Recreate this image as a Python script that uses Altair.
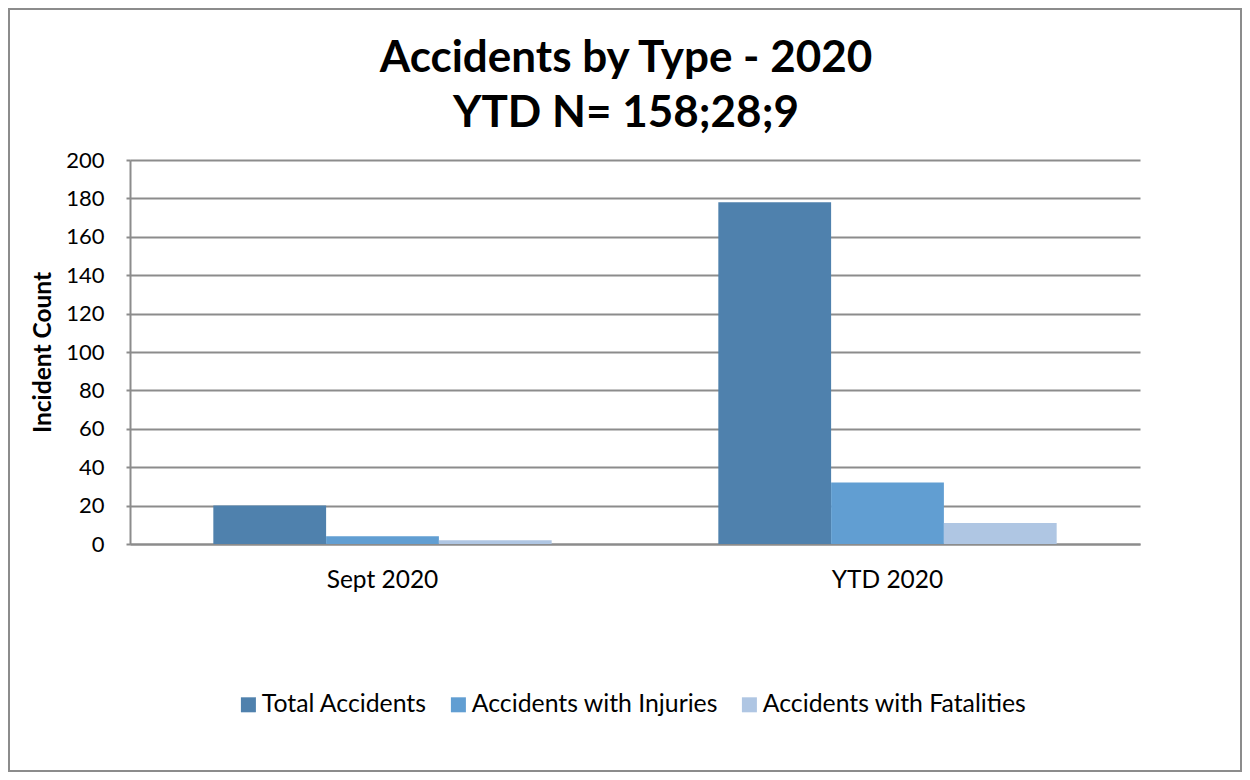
import altair as alt
import pandas as pd

periods = ["Sept 2020", "YTD 2020"]
series = ["Total Accidents", "Accidents with Injuries", "Accidents with Fatalities"]
total = [20, 178]
injuries = [4, 32]
fatalities = [2, 11]
colors = ["#4f81ad", "#619ed2", "#afc6e3"]
y_ticks = list(range(0, 201, 20))
title_lines = ["Accidents by Type - 2020", "YTD N= 158;28;9"]

rows = []
for i, p in enumerate(periods):
    for s, vals in zip(series, [total, injuries, fatalities]):
        rows.append({"period": p, "series": s, "value": vals[i]})
df = pd.DataFrame(rows)

W, H = 1010, 384
PL, PT = 122, 152
PR = 1234 - PL - W
PB = 764 - PT - H
FONT = "Lato"
GRID = "#8c8c8c"
TXT = 24.5

bars = alt.Chart(df).mark_bar(strokeWidth=0).encode(
    x=alt.X(
        "period:N", sort=periods,
        scale=alt.Scale(paddingInner=0.33, paddingOuter=0.165),
        axis=alt.Axis(title=None, labelAngle=0, ticks=False, domain=True,
                      domainColor=GRID, domainWidth=2,
                      labelFontSize=TXT, labelFont=FONT, labelColor="#000",
                      labelPadding=24),
    ),
    xOffset=alt.XOffset("series:N", sort=series,
                        scale=alt.Scale(paddingInner=0, paddingOuter=0)),
    y=alt.Y(
        "value:Q",
        scale=alt.Scale(domain=[0, 200], nice=False),
        axis=alt.Axis(values=y_ticks, title="Incident Count",
                      titleFont=FONT, titleFontSize=TXT, titleFontWeight="bold",
                      titleColor="#000", titlePadding=10,
                      labelFont=FONT, labelFontSize=22, labelColor="#000",
                      labelPadding=22, tickSize=4, tickColor=GRID, tickWidth=2,
                      domain=True, domainColor=GRID, domainWidth=2,
                      grid=True, gridColor=GRID, gridWidth=2),
    ),
    color=alt.Color(
        "series:N", sort=series,
        scale=alt.Scale(domain=series, range=colors),
        legend=alt.Legend(orient="none", legendX=106, legendY=532,
                          direction="horizontal", title=None,
                          symbolType="square", symbolSize=225,
                          symbolStrokeWidth=0, symbolOpacity=1,
                          labelFont=FONT, labelFontSize=24.8, labelColor="#000",
                          labelLimit=0, labelOffset=1, columnPadding=19),
    ),
)

title1 = alt.Chart(pd.DataFrame({"t": [title_lines[0]]})).mark_text(
    font=FONT, fontSize=44, fontWeight="bold", color="#000",
    align="center", baseline="alphabetic"
).encode(text="t:N", x=alt.value(496), y=alt.value(-88))

title2 = alt.Chart(pd.DataFrame({"t": [title_lines[1]]})).mark_text(
    font=FONT, fontSize=44, fontWeight="bold", color="#000",
    align="center", baseline="alphabetic"
).encode(text="t:N", x=alt.value(496), y=alt.value(-33))

frame = alt.Chart(pd.DataFrame({"f": [0]})).mark_rect(
    fillOpacity=0, stroke=GRID, strokeWidth=2
).encode(
    x=alt.value(-PL + 1), x2=alt.value(W + PR - 1),
    y=alt.value(-PT + 1), y2=alt.value(H + PB - 1),
)

chart = alt.layer(frame, bars, title1, title2).properties(
    width=W, height=H,
    padding={"left": PL, "top": PT, "right": PR, "bottom": PB},
    autosize=alt.AutoSizeParams(type="none"),
).configure_view(stroke=None)

chart.save("out.html", embed_options={"renderer": "svg", "actions": False})
